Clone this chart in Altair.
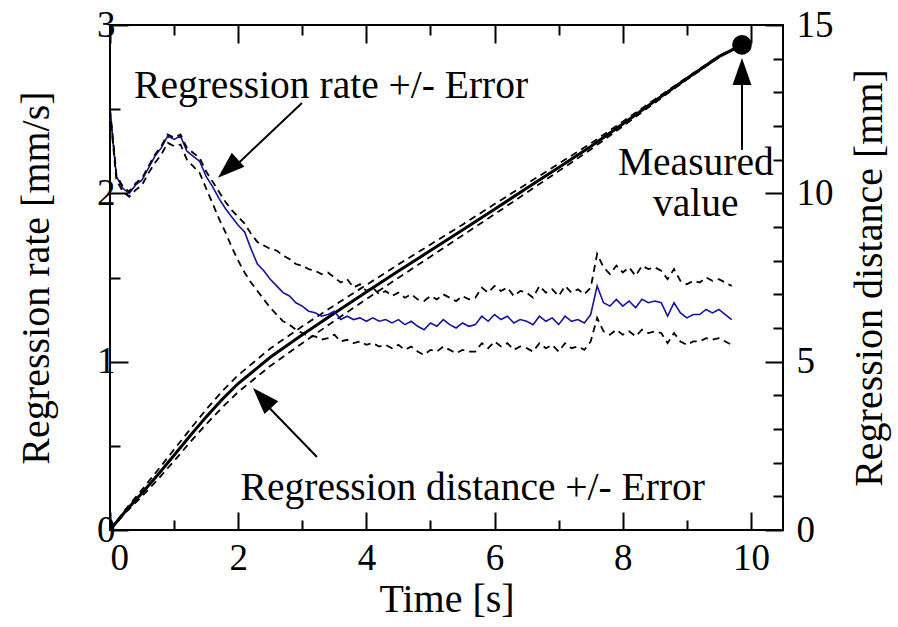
import altair as alt
import pandas as pd

# ---------------- data ----------------
t_rate = [round(i * 0.1, 1) for i in range(98)]  # sampling grid 0.0 .. 9.7 s

rate = [2.50, 2.10, 2.03, 2.00, 2.05, 2.08, 2.15, 2.22, 2.27, 2.34,
        2.32, 2.34, 2.25, 2.22, 2.19, 2.10, 2.04, 1.97, 1.91, 1.86,
        1.81, 1.77, 1.67, 1.58, 1.54, 1.49, 1.45, 1.41, 1.39, 1.35,
        1.33, 1.30, 1.29, 1.27, 1.28, 1.30, 1.25, 1.27, 1.25, 1.26,
        1.24, 1.26, 1.24, 1.25, 1.23, 1.25, 1.22, 1.24, 1.21, 1.19,
        1.23, 1.21, 1.25, 1.22, 1.20, 1.23, 1.21, 1.22, 1.27, 1.24,
        1.28, 1.25, 1.27, 1.23, 1.25, 1.24, 1.22, 1.27, 1.24, 1.26,
        1.22, 1.27, 1.24, 1.25, 1.23, 1.28, 1.45, 1.35, 1.33, 1.37,
        1.33, 1.36, 1.32, 1.37, 1.35, 1.36, 1.35, 1.27, 1.35, 1.29,
        1.26, 1.28, 1.28, 1.31, 1.29, 1.31, 1.28, 1.25]

rate_upper = [2.50, 2.11, 2.04, 2.01, 2.06, 2.09, 2.16, 2.23, 2.28, 2.35,
              2.33, 2.35, 2.27, 2.24, 2.21, 2.13, 2.07, 2.01, 1.95, 1.90,
              1.86, 1.82, 1.76, 1.71, 1.69, 1.67, 1.66, 1.63, 1.61, 1.58,
              1.57, 1.55, 1.54, 1.52, 1.53, 1.50, 1.47, 1.49, 1.44, 1.46,
              1.42, 1.44, 1.40, 1.42, 1.39, 1.41, 1.38, 1.40, 1.37, 1.36,
              1.39, 1.37, 1.40, 1.38, 1.36, 1.39, 1.37, 1.38, 1.44, 1.41,
              1.45, 1.42, 1.44, 1.39, 1.42, 1.41, 1.38, 1.45, 1.41, 1.43,
              1.39, 1.45, 1.41, 1.43, 1.40, 1.44, 1.64, 1.56, 1.52, 1.57,
              1.53, 1.56, 1.51, 1.57, 1.55, 1.56, 1.54, 1.49, 1.55, 1.48,
              1.46, 1.48, 1.47, 1.50, 1.48, 1.49, 1.47, 1.45]

rate_lower = [2.48, 2.08, 2.01, 1.98, 2.02, 2.05, 2.12, 2.18, 2.23, 2.30,
              2.28, 2.29, 2.20, 2.16, 2.12, 2.03, 1.94, 1.85, 1.77, 1.68,
              1.60, 1.53, 1.47, 1.42, 1.37, 1.32, 1.28, 1.24, 1.22, 1.19,
              1.17, 1.15, 1.15, 1.13, 1.14, 1.16, 1.12, 1.13, 1.11, 1.12,
              1.10, 1.11, 1.09, 1.10, 1.08, 1.10, 1.07, 1.09, 1.06, 1.04,
              1.07, 1.06, 1.09, 1.07, 1.05, 1.07, 1.06, 1.06, 1.11, 1.08,
              1.12, 1.09, 1.11, 1.07, 1.09, 1.08, 1.06, 1.11, 1.08, 1.10,
              1.06, 1.11, 1.08, 1.09, 1.07, 1.12, 1.26, 1.18, 1.16, 1.19,
              1.16, 1.18, 1.15, 1.19, 1.17, 1.18, 1.17, 1.11, 1.17, 1.12,
              1.10, 1.12, 1.12, 1.14, 1.13, 1.14, 1.12, 1.10]

t_dist = [0, 0.25, 0.5, 0.75, 1, 1.25, 1.5, 1.75, 2, 2.5, 3, 3.5, 4, 4.5,
          5, 5.5, 6, 6.5, 7, 7.5, 8, 8.5, 9, 9.5, 9.86]
dist = [0, 0.58, 1.10, 1.65, 2.22, 2.80, 3.36, 3.88, 4.35, 5.13, 5.80, 6.44,
        7.07, 7.69, 8.30, 8.91, 9.53, 10.15, 10.77, 11.39, 12.06, 12.74,
        13.41, 14.06, 14.41]
dist_upper = [0, 0.63, 1.20, 1.79, 2.39, 2.99, 3.58, 4.12, 4.60, 5.39, 6.05,
              6.67, 7.28, 7.89, 8.48, 9.07, 9.68, 10.28, 10.88, 11.48, 12.13,
              12.79, 13.44, 14.08, 14.41]
dist_lower = [0, 0.53, 1.00, 1.51, 2.05, 2.61, 3.14, 3.64, 4.10, 4.87, 5.55,
              6.21, 6.86, 7.49, 8.12, 8.75, 9.38, 10.02, 10.66, 11.30, 11.99,
              12.69, 13.38, 14.04, 14.41]

measured_t = [9.86]
measured_dist = [14.41]

# annotations (data units)
label_rate_text = ["Regression rate +/- Error"]
label_rate_pos = [3.45, 2.565]           # t, rate
label_dist_text = ["Regression distance +/- Error"]
label_dist_pos = [5.66, 0.90]            # t, distance
label_meas_text = ["Measured", "value"]
label_meas_t = [9.14, 9.14]
label_meas_d = [10.55, 9.33]

arrow_rate = {"t": [2.995], "y": [2.537], "t2": [1.95], "y2": [2.16],
              "tip_t": [1.685], "tip_y": [2.092], "angle": [228]}
arrow_dist = {"t": [3.229], "y": [2.17], "t2": [2.45], "y2": [3.70],
              "tip_t": [2.231], "tip_y": [4.22], "angle": [317]}
arrow_meas = {"t": [9.86], "y": [11.29], "t2": [9.86], "y2": [13.3],
              "tip_t": [9.86], "tip_y": [14.02], "angle": [0]}

x_major = [0, 2, 4, 6, 8, 10]
x_minor = [1, 3, 5, 7, 9]
rate_major = [0, 1, 2, 3]
rate_minor = [0.5, 1.5, 2.5]
dist_major = [0, 5, 10, 15]
dist_minor = [1, 2, 3, 4, 6, 7, 8, 9, 11, 12, 13, 14]

# ---------------- styling ----------------
SERIF = "Liberation Serif"
FS_LABEL = 37
FS_TITLE = 40
FS_NOTE = 39.5
BLUE = "#1414a0"

x_scale = alt.Scale(domain=[0, 10.5], nice=False, zero=False)
rate_scale = alt.Scale(domain=[0, 3], nice=False, zero=False)
dist_scale = alt.Scale(domain=[0, 15], nice=False, zero=False)

base_axis = dict(domain=False, grid=False, tickColor="black", tickWidth=2,
                 labelFont=SERIF, labelFontSize=FS_LABEL, labelColor="black",
                 titleFont=SERIF, titleFontSize=FS_TITLE, titleColor="black",
                 titleFontWeight="normal")


def ax(orient, values, size, labels=False, title=None, **kw):
    d = dict(base_axis)
    d.update(kw)
    return alt.Axis(orient=orient, values=values, tickSize=size, offset=-size,
                    labels=labels, title=title, **d)


ax_bottom_major = ax("bottom", x_major, 18, labels=True, title="Time [s]",
                     format="d", labelPadding=10, titlePadding=3)
ax_bottom_minor = ax("bottom", x_minor, 10)
ax_top_major = ax("top", x_major, 18)
ax_top_minor = ax("top", x_minor, 10)
ax_left_major = ax("left", rate_major, 18, labels=True,
                   title="Regression rate [mm/s]", format="d",
                   labelPadding=-5, titlePadding=40)
ax_left_minor = ax("left", rate_minor, 10)
ax_right_major = ax("right", dist_major, 18, labels=True,
                    title="Regression distance [mm]", format="d",
                    labelPadding=13, titlePadding=56, titleAngle=270)
ax_right_minor = ax("right", dist_minor, 10)

rate_df = pd.DataFrame({"t": t_rate, "rate": rate, "upper": rate_upper,
                        "lower": rate_lower})
dist_df = pd.DataFrame({"t": t_dist, "dist": dist, "upper": dist_upper,
                        "lower": dist_lower})

dash = [7, 5]

blue_line = alt.Chart(rate_df).mark_line(color=BLUE, strokeWidth=1.6).encode(
    x=alt.X("t:Q", scale=x_scale, axis=ax_bottom_major),
    y=alt.Y("rate:Q", scale=rate_scale, axis=ax_left_major),
)
rate_up = alt.Chart(rate_df).mark_line(color="black", strokeWidth=1.8,
                                       strokeDash=dash).encode(
    x=alt.X("t:Q", scale=x_scale, axis=ax_bottom_minor),
    y=alt.Y("upper:Q", scale=rate_scale, axis=ax_left_minor),
)
rate_lo = alt.Chart(rate_df).mark_line(color="black", strokeWidth=1.8,
                                       strokeDash=dash).encode(
    x=alt.X("t:Q", scale=x_scale, axis=ax_top_major),
    y=alt.Y("lower:Q", scale=rate_scale, axis=None),
)
dist_main = alt.Chart(dist_df).mark_line(color="black", strokeWidth=3).encode(
    x=alt.X("t:Q", scale=x_scale, axis=ax_top_minor),
    y=alt.Y("dist:Q", scale=dist_scale, axis=ax_right_major),
)
dist_up = alt.Chart(dist_df).mark_line(color="black", strokeWidth=1.8,
                                       strokeDash=dash).encode(
    x=alt.X("t:Q", scale=x_scale, axis=None),
    y=alt.Y("upper:Q", scale=dist_scale, axis=ax_right_minor),
)
dist_lo = alt.Chart(dist_df).mark_line(color="black", strokeWidth=1.8,
                                       strokeDash=dash).encode(
    x=alt.X("t:Q", scale=x_scale, axis=None),
    y=alt.Y("lower:Q", scale=dist_scale, axis=None),
)

meas_df = pd.DataFrame({"t": measured_t, "d": measured_dist})
meas_pt = alt.Chart(meas_df).mark_point(filled=True, shape="circle", size=390,
                                        color="black", opacity=1).encode(
    x=alt.X("t:Q", scale=x_scale, axis=None),
    y=alt.Y("d:Q", scale=dist_scale, axis=None),
)

HEAD = "M0,0 L0.7,2 L-0.7,2 Z"


def arrow(spec, yscale):
    df = pd.DataFrame(spec)
    line = alt.Chart(df).mark_rule(color="black", strokeWidth=2).encode(
        x=alt.X("t:Q", scale=x_scale, axis=None),
        y=alt.Y("y:Q", scale=yscale, axis=None),
        x2="t2:Q", y2="y2:Q",
    )
    head = alt.Chart(df).mark_point(shape=HEAD, filled=True, color="black",
                                    size=729, opacity=1).encode(
        x=alt.X("tip_t:Q", scale=x_scale, axis=None),
        y=alt.Y("tip_y:Q", scale=yscale, axis=None),
        angle=alt.Angle("angle:Q", scale=None),
    )
    return [line, head]


def text_layer(df, xf, yf, yscale):
    return alt.Chart(df).mark_text(font=SERIF, fontSize=FS_NOTE, color="black",
                                   align="center", baseline="alphabetic").encode(
        x=alt.X(f"{xf}:Q", scale=x_scale, axis=None),
        y=alt.Y(f"{yf}:Q", scale=yscale, axis=None),
        text="label:N",
    )


txt_rate = text_layer(pd.DataFrame({"label": label_rate_text,
                                    "t": [label_rate_pos[0]],
                                    "y": [label_rate_pos[1]]}),
                      "t", "y", rate_scale)
txt_dist = text_layer(pd.DataFrame({"label": label_dist_text,
                                    "t": [label_dist_pos[0]],
                                    "y": [label_dist_pos[1]]}),
                      "t", "y", dist_scale)
txt_meas = text_layer(pd.DataFrame({"label": label_meas_text,
                                    "t": label_meas_t,
                                    "y": label_meas_d}),
                      "t", "y", dist_scale)

layers = [dist_up, dist_lo, dist_main, blue_line, rate_up, rate_lo, meas_pt,
          *arrow(arrow_rate, rate_scale), *arrow(arrow_dist, dist_scale),
          *arrow(arrow_meas, dist_scale), txt_rate, txt_dist, txt_meas]

chart = alt.layer(*layers).resolve_scale(
    y="independent"
).resolve_axis(
    x="independent", y="independent"
).properties(
    width=673, height=505,
    autosize=alt.AutoSizeParams(type="none"),
    padding={"left": 110, "top": 25, "right": 115, "bottom": 97},
    background="white",
).configure_view(stroke="black", strokeWidth=2)

chart.save("out.html", embed_options={"renderer": "svg", "actions": False})
